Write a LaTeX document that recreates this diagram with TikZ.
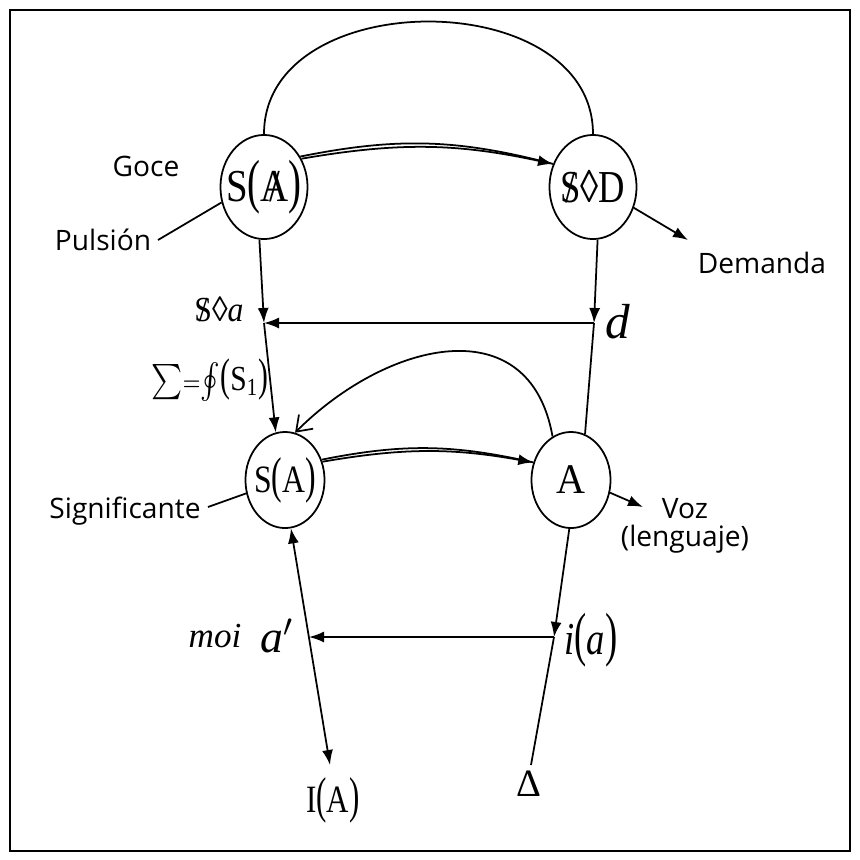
\documentclass[tikz,border=0pt]{standalone}
\usepackage{fontspec}
\setmainfont{Liberation Serif}
\newfontfamily\labelfont{Open Sans}
\usepackage{graphicx}
\usetikzlibrary{arrows.meta,shapes.geometric}

% letra tachada, parentesis altos y texto estrecho
\newcommand{\tachado}[1]{\ooalign{#1\cr\hidewidth/\hidewidth\cr}}
\newcommand{\altop}[1]{\scalebox{1}[1.3]{#1}}
\newcommand{\estrecho}[2][0.8]{\makebox[0pt]{\scalebox{#1}[1]{#2}}}

\begin{document}
\begin{tikzpicture}[
        x=0.01cm,
        y=-0.01cm,
        line width=0.5pt,
        lugar/.style={
            draw,
            ellipse,
            minimum width=0.87cm,
            minimum height=1.04cm,
            inner sep=0pt,
            font=\fontsize{13}{15}\selectfont
        },
        lugarchico/.style={
            lugar,
            minimum width=0.79cm,
            minimum height=0.96cm,
            font=\fontsize{11}{13}\selectfont
        },
        etiqueta/.style={
            font=\labelfont\fontsize{8}{10}\selectfont,
            align=center,
            inner sep=0pt
        },
        matema/.style={
            inner sep=0pt,
            font=\fontsize{12}{14}\selectfont
        },
        flecha/.style={
            -{Latex[length=1.5mm,width=1.1mm]}
        },
        flechafina/.style={
            -{Straight Barb[length=1.4mm,width=2mm]}
        }
    ]

        \useasboundingbox (0,0) rectangle (859,860);
        \draw (10,10) rectangle (850,851);

        % Piso superior
        \node[lugar] (SAbar) at (264,187)
            {\estrecho[0.85]{S\altop{(}\tachado{A}\altop{)}}};
        \node[lugar] (SD) at (593,187)
            {\estrecho[0.8]{\tachado{S}◊D}};

        % Piso inferior
        \node[lugarchico] (SA) at (285,480)
            {\estrecho[0.82]{S\altop{(}A\altop{)}}};
        \node[lugarchico,font=\fontsize{12}{14}\selectfont] (A) at (571,480)
            {\estrecho[0.95]{A}};

        % Etiquetas
        \node[etiqueta] (goce)    at (146,166) {Goce};
        \node[etiqueta] (pulsion) at (103,240) {Pulsión};
        \node[etiqueta] (demanda) at (762,263) {Demanda};
        \node[etiqueta] (signif)  at (125,511) {Significante};
        \node[etiqueta] (voz)     at (685,526) {Voz\\[-2pt](lenguaje)};

        \node[matema,font=\fontsize{10}{12}\selectfont] (sdiam) at (219,309)
            {\estrecho[0.9]{\tachado{S}◊\textit{a}}};
        \node[matema,font=\fontsize{14}{16}\selectfont\itshape] (dmin) at (618,322) {d};
        \node[matema,font=\fontsize{10}{12}\selectfont] (suma) at (210,380)
            {\estrecho[0.84]{$\textstyle\sum\!{\scriptstyle=}\!\oint$\altop{(}S\textsubscript{1}\altop{)}}};
        \node[matema,font=\fontsize{10}{12}\selectfont\itshape] (moi) at (215,636) {moi};
        \node[matema,font=\fontsize{13}{15}\selectfont] (aprima) at (277,636) {\textit{a}$'$};
        \node[matema,font=\fontsize{13}{15}\selectfont] (ia) at (591,640)
            {\estrecho[0.8]{\textit{i}\altop{(}\textit{a}\altop{)}}};
        \node[matema,font=\fontsize{11}{13}\selectfont] (IA) at (333,800)
            {\estrecho[0.8]{I\altop{(}A\altop{)}}};
        \node[matema,font=\fontsize{11}{13}\selectfont] (delta) at (529,784) {Δ};

        % Puntos de cruce y extremos libres
        \coordinate (cruce-sa)   at (264,323);
        \coordinate (cruce-d)    at (594,323);
        \coordinate (cruce-ap)   at (309,637);
        \coordinate (cruce-ia)   at (554,637);
        \coordinate (punta-dem)  at (688,240);
        \coordinate (punta-voz)  at (643,507);
        \coordinate (punta-IA)   at (330,765);
        \coordinate (fin-delta)  at (531,765);
        \coordinate (fin-puls)   at (158,240);
        \coordinate (fin-signif) at (208,507);

        % Arcos del piso superior
        \draw (SAbar.north) to[out=90,in=90,looseness=1.17] (SD.north);
        \draw[flecha] (SAbar.37) to[bend left=11] (SD.150);
        \draw (SAbar.40) to[bend left=13] (SD.150);

        \draw (fin-puls) -- (SAbar.200);
        \draw[flecha] (SD.-27) -- (punta-dem);

        % Bajadas
        \draw[flecha] (SAbar.265) -- (cruce-sa);
        \draw[flecha] (cruce-sa) -- (SA.101);
        \draw[flecha] (SD.-85) -- (cruce-d);
        \draw (cruce-d) -- (A.73);
        \draw[flecha] (cruce-d) -- (cruce-sa);

        % Piso inferior
        \draw[flechafina] (A.113) to[out=100,in=45,looseness=1.3] (SA.78);
        \draw[flecha] (SA.26) to[bend left=10] (A.155);
        \draw (SA.29) to[bend left=12] (A.155);
        \draw (fin-signif) -- (SA.199);
        \draw[flecha] (A.-18) -- (punta-voz);

        \draw[{Latex[length=1.5mm,width=1.1mm]}-{Latex[length=1.5mm,width=1.1mm]}]
            (SA.-83) -- (punta-IA);
        \draw[flecha] (A.-92) -- (cruce-ia);
        \draw (cruce-ia) -- (fin-delta);
        \draw[flecha] (cruce-ia) -- (cruce-ap);

    \end{tikzpicture}
\end{document}
